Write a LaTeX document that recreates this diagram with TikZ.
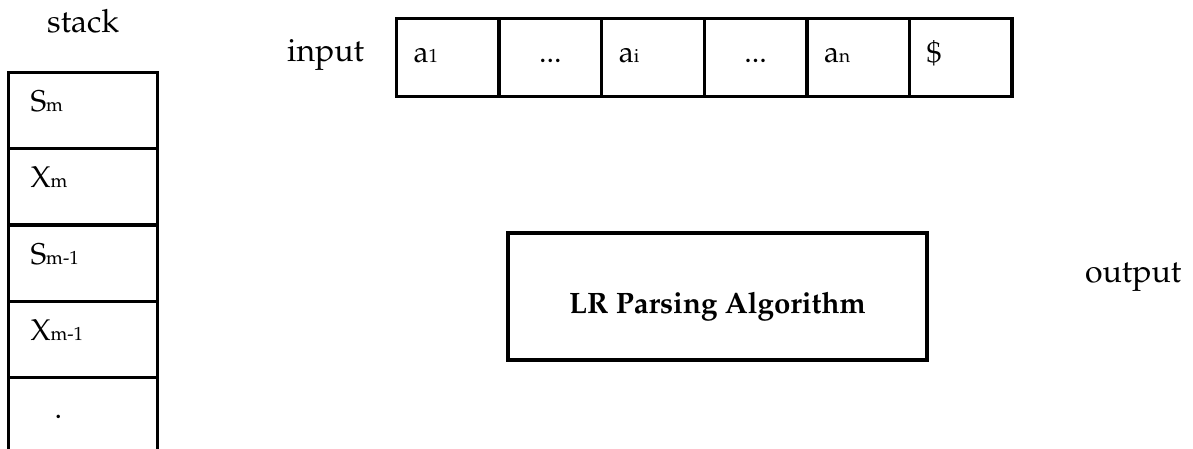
\documentclass[tikz,border=0pt]{standalone}
\usepackage[T1]{fontenc}
\usepackage{mathpazo}
\tikzset{
  x=1pt, y=-1pt,
  box/.style={draw, line width=3.3pt, inner sep=0pt, outer sep=0pt},
  stackcell/.style={box, minimum width=149pt, minimum height=76.3pt, anchor=north west},
  incell/.style={box, minimum width=102.6pt, minimum height=78pt, anchor=north west},
  caption/.style={inner sep=0pt, anchor=base west, font=\fontsize{32}{38}\selectfont},
  symtext/.style={inner sep=0pt, anchor=base west, font=\fontsize{30}{36}\selectfont},
}
\newcommand{\sym}[2]{#1{\fontsize{19}{23}\selectfont #2}}
\begin{document}
\begin{tikzpicture}
\clip (0,0) rectangle (1193,449);
\fill[white] (0,0) rectangle (1193,449);

% stack
\node[caption] (stacklbl) at (47,33) {stack};
\node[stackcell] (s1) at (8.3,72.5) {};
\node[stackcell] (s2) at (s1.south west) {};
\node[stackcell] (s3) at (s2.south west) {};
\node[stackcell] (s4) at (s3.south west) {};
\node[inner sep=0pt, minimum width=149pt, minimum height=80pt, anchor=north west] (s5) at (s4.south west) {};
\draw[line width=3.3pt] (s5.south west) -- (s5.north west) -- (s5.north east) -- (s5.south east);
\node[symtext] (t1) at ([xshift=22pt,yshift=-39pt]s1.north west) {\sym{S}{m}};
\node[symtext] (t2) at ([xshift=22pt,yshift=-39pt]s2.north west) {\sym{X}{m}};
\node[symtext] (t3) at ([xshift=22pt,yshift=-39pt]s3.north west) {\sym{S}{m-1}};
\node[symtext] (t4) at ([xshift=22pt,yshift=-39pt]s4.north west) {\sym{X}{m-1}};
\node[symtext, anchor=base] (t5) at ([xshift=50pt,yshift=-41pt]s5.north west) {.};

% input tape
\node[caption] (inlbl) at (287,62) {input};
\node[incell] (c1) at (396.5,18.5) {};
\node[incell] (c2) at (c1.north east) {};
\node[incell] (c3) at (c2.north east) {};
\node[incell] (c4) at (c3.north east) {};
\node[incell] (c5) at (c4.north east) {};
\node[incell] (c6) at (c5.north east) {};
\node[symtext] (a1) at ([xshift=17pt,yshift=-44.5pt]c1.north west) {\sym{a}{1}};
\node[symtext, anchor=base] (a2) at ([yshift=-44.5pt]c2.north) {...};
\node[symtext] (a3) at ([xshift=17pt,yshift=-44.5pt]c3.north west) {\sym{a}{i}};
\node[symtext, anchor=base] (a4) at ([yshift=-44.5pt]c4.north) {...};
\node[symtext] (a5) at ([xshift=17pt,yshift=-44.5pt]c5.north west) {\sym{a}{n}};
\node[symtext] (a6) at ([xshift=17pt,yshift=-44.5pt]c6.north west) {\$};

% parser
\node[box, minimum width=419pt, minimum height=127pt, anchor=north west] (lr) at (508,233) {};
\node[inner sep=0pt, anchor=base, font=\fontsize{29.5}{35}\selectfont\bfseries] (lrtext) at ([yshift=-80pt]lr.north) {LR Parsing Algorithm};
\node[caption] (outlbl) at (1085,282) {output};
\end{tikzpicture}
\end{document}
